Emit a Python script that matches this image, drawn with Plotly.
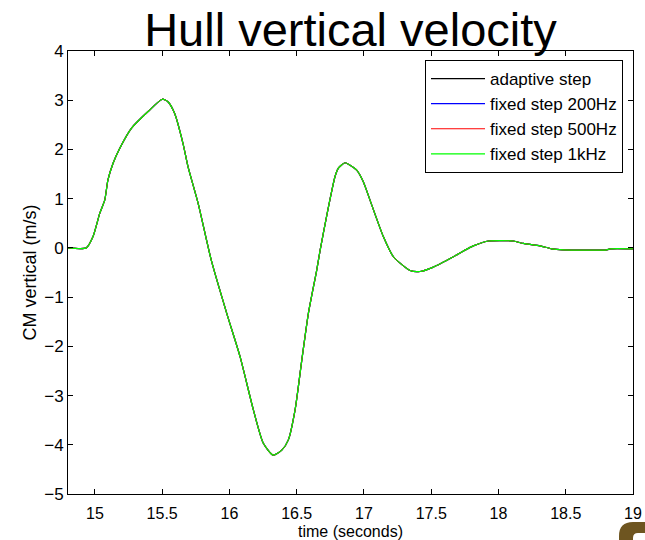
import plotly.graph_objects as go

# time (s) and CM vertical velocity (m/s)
time_s = [14.80, 14.936, 14.986, 15.036, 15.073, 15.097, 15.135, 15.184, 15.271,
          15.395, 15.501, 15.543, 15.593, 15.655, 15.692, 15.767, 15.865,
          15.980, 16.079, 16.178, 16.252, 16.326, 16.389, 16.438, 16.488, 16.538,
          16.587, 16.649, 16.674, 16.723, 16.748, 16.785, 16.810, 16.859, 16.897,
          16.946, 16.996, 17.045,
          17.144, 17.219, 17.343, 17.417, 17.516, 17.665, 17.789, 17.813, 17.925,
          18.111, 18.185, 18.309, 18.396, 18.483, 18.805, 18.830, 19.00]
velocity = [0.00, 0.00, 0.23, 0.70, 0.97, 1.38, 1.72, 2.02, 2.43,
            2.77, 3.02, 2.97, 2.73, 2.12, 1.65, 0.91, -0.25,
            -1.33, -2.21, -3.29, -3.97, -4.21, -4.11, -3.90, -3.29, -2.28,
            -1.33, -0.45, -0.05, 0.65, 0.99, 1.45, 1.62, 1.73, 1.68,
            1.58, 1.34, 0.97,
            0.23, -0.18, -0.46, -0.48, -0.39, -0.18, 0.01, 0.04, 0.14,
            0.14, 0.09, 0.04, -0.02, -0.04, -0.04, -0.02, -0.02]

series_names = ["adaptive step", "fixed step 200Hz", "fixed step 500Hz", "fixed step 1kHz"]
series_colors = ["#000000", "#0000ff", "#ff0000", "#00ff00"]
series_values = [velocity, velocity, velocity, velocity]

x_ticks = [15, 15.5, 16, 16.5, 17, 17.5, 18, 18.5, 19]
y_ticks = [-5, -4, -3, -2, -1, 0, 1, 2, 3, 4]

fig = go.Figure()
for name, color, vals in zip(series_names, series_colors, series_values):
    fig.add_trace(go.Scatter(x=time_s, y=vals, mode="lines", name=name,
                             line=dict(color=color, width=1.2, shape="spline", smoothing=0.6)))

FONT = "Liberation Sans, Arial, sans-serif"
L, R, T, B = 68, 12, 51, 46
W, H = 645, 540
pw, ph = W - L - R, H - T - B

def px(xp):
    return (xp - L) / pw

def py(yp):
    return (H - B - yp) / ph

fig.update_layout(
    width=W, height=H,
    margin=dict(l=L, r=R, t=T, b=B, pad=0, autoexpand=False),
    paper_bgcolor="white", plot_bgcolor="white",
    font=dict(family=FONT, color="black", size=16),
    title=dict(text="Hull vertical velocity", x=0.5, xanchor="center",
               xref="paper", y=1 - 30 / H, yref="container", yanchor="middle",
               font=dict(size=47, family=FONT, color="black")),
    xaxis=dict(range=[14.8, 19], tickvals=x_ticks, ticktext=[f"{v:g}" for v in x_ticks],
               ticks="inside", ticklen=5, tickcolor="black", mirror="ticks",
               showline=True, linecolor="black", linewidth=1, showgrid=False, zeroline=False,
               automargin=False, ticklabelstandoff=5,
               title=dict(text="time (seconds)", font=dict(size=16), standoff=5),
               tickfont=dict(size=16)),
    yaxis=dict(range=[-5, 4], tickvals=y_ticks, ticks="inside", ticklen=5, tickcolor="black",
               mirror="ticks", showline=True, linecolor="black", linewidth=1,
               showgrid=False, zeroline=False, automargin=False,
               title=dict(text="CM vertical (m/s)", font=dict(size=18), standoff=2),
               tickfont=dict(size=17)),
    legend=dict(x=px(425), y=py(60), xanchor="left", yanchor="top",
                bgcolor="white", bordercolor="black", borderwidth=1, itemwidth=54,
                font=dict(size=17, family=FONT), tracegroupgap=0),
    showlegend=True,
)

# small decorative logo corner at bottom right
fig.add_shape(type="path", xref="paper", yref="paper",
              path=(f"M {px(619)},{py(541)} L {px(619)},{py(536)} Q {px(619)},{py(522)} {px(633)},{py(522)} "
                    f"L {px(646)},{py(522)} L {px(646)},{py(533)} L {px(638)},{py(533)} "
                    f"Q {px(633)},{py(533)} {px(633)},{py(538)} L {px(633)},{py(541)} Z"),
              fillcolor="#6e5520", line=dict(width=0), layer="above")

fig.write_html("out.html")
